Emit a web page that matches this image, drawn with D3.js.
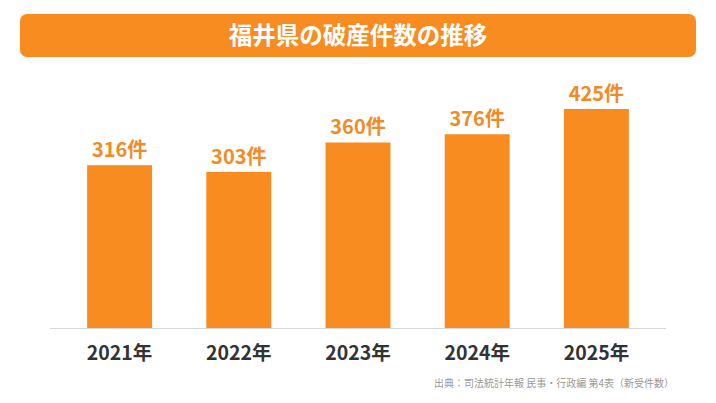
<!DOCTYPE html>
<html>
<head>
<meta charset="utf-8">
<script src="https://cdn.jsdelivr.net/npm/d3@7"></script>
<style>
  body { margin: 0; background: #fff; }
  text { font-family: "Noto Sans CJK JP", "Noto Sans", sans-serif; }
</style>
</head>
<body>
<div id="chart"></div>
<script>
const years = ["2021年", "2022年", "2023年", "2024年", "2025年"];
const cases = [316, 303, 360, 376, 425];
const valueLabels = ["316件", "303件", "360件", "376件", "425件"];
const title = "福井県の破産件数の推移";
const source = "出典：司法統計年報 民事・行政編 第4表（新受件数）";

function renderChart(){
    const width = 716, height = 403;
    const orange = "#F98C21";

    const svg = d3.select("#chart")
        .append("svg")
        .attr("width", width)
        .attr("height", height);

    svg.append("rect")
        .attr("width", width)
        .attr("height", height)
        .attr("fill", "#fff");

    // title banner
    svg.append("rect")
        .attr("x", 20).attr("y", 14)
        .attr("width", 676).attr("height", 43)
        .attr("rx", 7)
        .attr("fill", orange);

    svg.append("text")
        .attr("x", 358).attr("y", 43.5)
        .attr("text-anchor", "middle")
        .attr("font-size", 23.5)
        .attr("font-weight", 700)
        .attr("fill", "#fff")
        .text(title);

    const x = d3.scaleBand()
        .domain(years)
        .range([60, 656])
        .paddingInner(0.455)
        .paddingOuter(0.2275);

    const y = d3.scaleLinear()
        .domain([0, 425])
        .range([328, 109]);

    svg.selectAll(".bar").data(cases)
        .enter().append("rect")
            .attr("class", "bar")
            .attr("x", (d, i) => x(years[i]))
            .attr("y", d => y(d))
            .attr("width", x.bandwidth())
            .attr("height", d => y(0) - y(d))
            .attr("fill", orange);

    svg.selectAll(".val").data(cases)
        .enter().append("text")
            .attr("class", "val")
            .attr("x", (d, i) => x(years[i]) + x.bandwidth() / 2)
            .attr("y", d => y(d) - 8)
            .attr("text-anchor", "middle")
            .attr("font-size", 20)
            .attr("font-weight", 700)
            .attr("fill", "#F28A26")
            .text((d, i) => valueLabels[i]);

    // baseline + year labels
    svg.append("line")
        .attr("x1", 50).attr("x2", 666)
        .attr("y1", 328.5).attr("y2", 328.5)
        .attr("stroke", "#d5d9dd")
        .attr("stroke-width", 1);

    const axis = svg.append("g")
        .attr("transform", "translate(0,328)")
        .call(d3.axisBottom(x).tickSize(0).tickPadding(0));
    axis.select(".domain").remove();
    axis.selectAll("text")
        .attr("y", 32)
        .attr("dy", 0)
        .attr("font-size", 19.5)
        .attr("font-weight", 700)
        .attr("font-family", "\"Noto Sans CJK JP\", sans-serif")
        .attr("fill", "#333");

    svg.append("text")
        .attr("x", 674).attr("y", 387)
        .attr("text-anchor", "end")
        .attr("font-size", 10)
        .attr("fill", "#9a9a9a")
        .text(source);
}
renderChart();
</script>
</body>
</html>
